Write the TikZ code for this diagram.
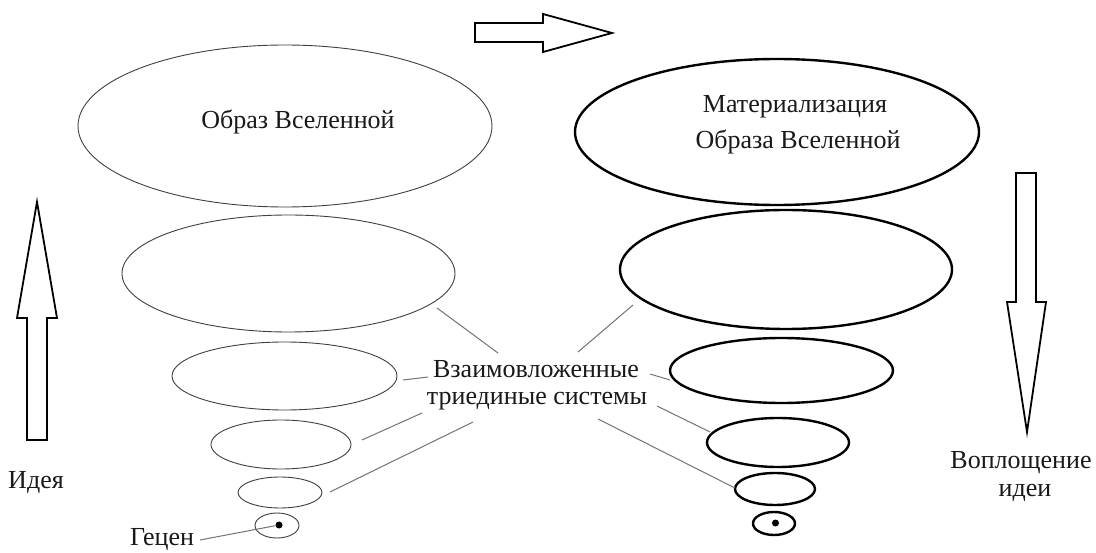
\documentclass[tikz,border=0pt]{standalone}
\usepackage{fontspec}
\setmainfont{Liberation Serif}
\usetikzlibrary{shapes.geometric}
\begin{document}
\begin{tikzpicture}[x=1pt,y=-1pt,
  thinell/.style={draw=black!75, line width=0.9pt, ellipse, inner sep=0pt},
  thickell/.style={draw=black, line width=2.4pt, ellipse, inner sep=0pt},
  bigarrow/.style={draw=black, line width=1.8pt, fill=white, line join=miter},
  leader/.style={draw=black!55, line width=1pt},
  lbl/.style={font=\fontsize{26}{30}\selectfont, text=black!90, inner sep=0pt, align=center},
  dotc/.style={circle, fill=black, inner sep=0pt, minimum size=7pt}]
\useasboundingbox (0,0) rectangle (1096,553);
\fill[white] (0,0) rectangle (1096,553);

% left (thin) ellipses
\node[thinell, minimum width=414pt, minimum height=162pt] (L1) at (285,126) {};
\node[thinell, minimum width=333pt, minimum height=117pt] (L2) at (288.5,273.5) {};
\node[thinell, minimum width=225pt, minimum height=68pt] (L3) at (284.5,376) {};
\node[thinell, minimum width=140pt, minimum height=49pt] (L4) at (281,444.5) {};
\node[thinell, minimum width=84pt, minimum height=31pt] (L5) at (280,492.5) {};
\node[thinell, minimum width=44pt, minimum height=25pt] (L6) at (277,525.5) {};
\node[dotc] (LD) at (279,525) {};

% right (thick) ellipses
\node[thickell, minimum width=404pt, minimum height=146pt] (R1) at (777,132) {};
\node[thickell, minimum width=332pt, minimum height=119pt] (R2) at (786,269.5) {};
\node[thickell, minimum width=223pt, minimum height=65pt] (R3) at (781.5,370.5) {};
\node[thickell, minimum width=142pt, minimum height=49pt] (R4) at (778,442.5) {};
\node[thickell, minimum width=80pt, minimum height=32pt] (R5) at (775,489) {};
\node[thickell, minimum width=42pt, minimum height=23pt] (R6) at (774,523.5) {};
\node[dotc] (RD) at (775.5,523) {};

% texts
\node[lbl] (tL1) at (298,122) {Образ Вселенной};
\node[lbl] (tR1a) at (795,107) {Материализация};
\node[lbl] (tR1b) at (798,142) {Образа Вселенной};
\node[lbl] (tMa) at (536,369) {Взаимовложенные};
\node[lbl] (tMb) at (537,401) {триединые системы};
\node[lbl] (tIdea) at (36,483) {Идея};
\node[lbl] (tVa) at (1021,463) {Воплощение};
\node[lbl] (tVb) at (1025,493) {идеи};
\node[lbl] (tG) at (162,540) {Гецен};

% arrows
\draw[bigarrow] (475,23) -- (543,23) -- (543,14) -- (612,33) -- (543,52) -- (543,42) -- (475,42) -- cycle;
\draw[bigarrow] (27,440) -- (27,318) -- (17,318) -- (37,202) -- (57,318) -- (47,318) -- (47,440) -- cycle;
\draw[bigarrow] (1016,173) -- (1036,173) -- (1036,302) -- (1046,302) -- (1027,432) -- (1007,302) -- (1016,302) -- cycle;

% leader line end points
\coordinate (a1) at (437,308); \coordinate (b1) at (498,353);
\coordinate (a2) at (403,380); \coordinate (b2) at (428,377);
\coordinate (a3) at (362,440); \coordinate (b3) at (422,413);
\coordinate (a4) at (330,492); \coordinate (b4) at (473,422);
\coordinate (a5) at (633,305); \coordinate (b5) at (578,352);
\coordinate (a6) at (670,380); \coordinate (b6) at (650,374);
\coordinate (a7) at (710,432); \coordinate (b7) at (657,406);
\coordinate (a8) at (735,488); \coordinate (b8) at (598,419);
\coordinate (g1) at (200,540);

\draw[leader] (a1) -- (b1);
\draw[leader] (a2) -- (b2);
\draw[leader] (a3) -- (b3);
\draw[leader] (a4) -- (b4);
\draw[leader] (a5) -- (b5);
\draw[leader] (a6) -- (b6);
\draw[leader] (a7) -- (b7);
\draw[leader] (a8) -- (b8);
\draw[leader] (g1) -- (LD);
\end{tikzpicture}
\end{document}
